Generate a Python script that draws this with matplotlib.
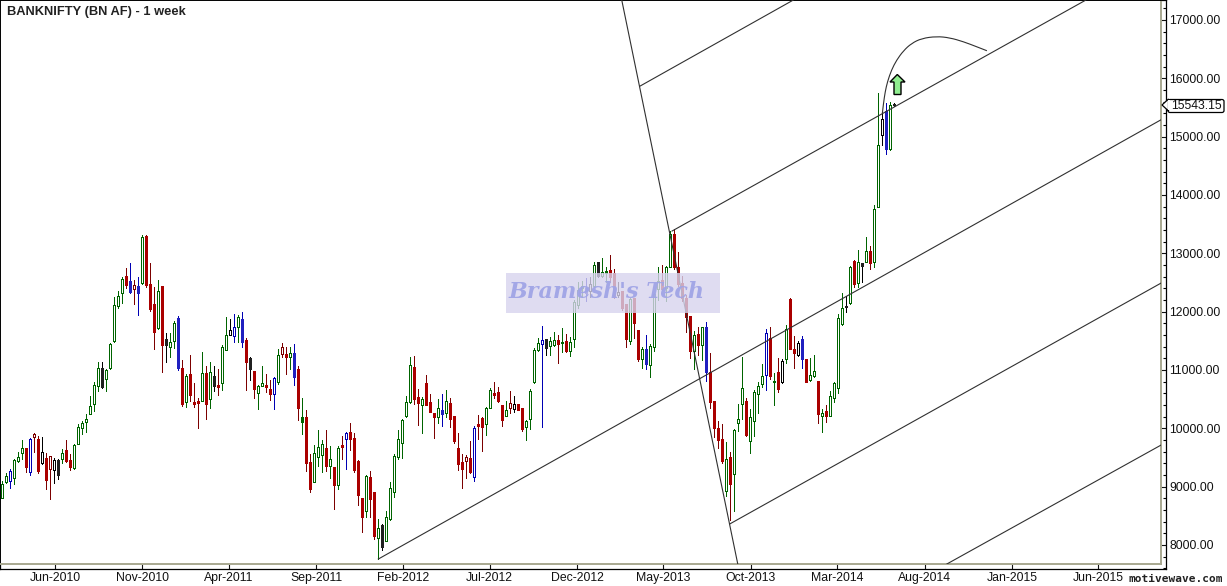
import matplotlib
matplotlib.use("Agg")
import matplotlib.pyplot as plt
import matplotlib.dates as mdates
import pandas as pd
from matplotlib.patches import Polygon, Rectangle, FancyBboxPatch, PathPatch
from matplotlib.path import Path
from matplotlib.ticker import FixedLocator, MultipleLocator, FuncFormatter
from matplotlib.transforms import Affine2D

W, H = 1227, 586

# weekly bars, prices
body_top = [
    9040, 9177, 9263, 9457, 9503, 9657, 9657, 9817, 9903, 9811, 9588, 9491, 9520, 9457, 9451,
    9571, 9628, 9457, 9714, 10017, 10085, 10154, 10377, 10737, 11028, 11028, 11000, 11445, 12108, 12262,
    12554, 12611, 12520, 12457, 12440, 13274, 13297, 12468, 12125, 12348, 12434, 11525, 11474, 11800, 11885,
    11028, 10891, 10925, 10451, 10463, 10943, 10943, 10960, 10891, 10737, 11388, 11594, 11680, 11731, 11908,
    11868, 11508, 11205, 10977, 10725, 10783, 10737, 10674, 10857, 11251, 11388, 11268, 11285, 11285, 11011,
    10188, 10188, 9416, 9571, 9673, 9725, 9656, 9468, 9331, 9656, 9708, 9913, 9931, 9828, 9433,
    8799, 9182, 9159, 8902, 8285, 8336, 8485, 8971, 9519, 9811, 10136, 10445, 11079, 11045, 10530,
    10496, 10770, 10445, 10256, 10342, 10308, 10462, 10428, 10205, 9656, 9416, 9502, 9485, 10000, 10068,
    10176, 10342, 10650, 10599, 10616, 10393, 10308, 10428, 10411, 10411, 10342, 10119, 10633, 11348, 11456,
    11508, 11525, 11490, 11508, 11508, 11473, 11490, 11473, 12165, 12371, 12440, 12400, 12474, 12800, 12845,
    12685, 12691, 12714, 12657, 12331, 12354, 12137, 12211, 12234, 11680, 11354, 11354, 11411, 12303, 12525,
    12542, 12760, 13331, 13331, 12771, 12485, 12228, 11920, 11605, 11611, 11731, 11731, 10971, 10462, 9999,
    9811, 9468, 9514, 9965, 10165, 10685, 10462, 10188, 10616, 10731, 10891, 11628, 11542, 10805, 10959,
    11148, 11708, 12211, 11354, 11456, 11525, 11182, 10908, 10976, 10805, 10256, 10291, 10548, 10771, 11885,
    12056, 12091, 12759, 12873, 12851, 12828, 13033, 13039, 13753, 14851, 15296, 15445, 15548, 15565,
]
body_bot = [
    8811, 9085, 9103, 9154, 9440, 9583, 9343, 9257, 9857, 9274, 9411, 9114, 9308, 9291, 9205,
    9480, 9445, 9343, 9320, 9737, 10000, 10103, 10251, 10411, 10731, 10714, 10840, 11028, 11491, 12102,
    12325, 12462, 12342, 12382, 12325, 12485, 12462, 12051, 11657, 11725, 11434, 11422, 11400, 11491, 11040,
    10423, 10457, 10577, 10423, 10440, 10474, 10423, 10508, 10731, 10714, 10783, 11348, 11605, 11588, 11743,
    11485, 11143, 11022, 10668, 10611, 10731, 10714, 10594, 10594, 10794, 11280, 11228, 11228, 10885, 10354,
    10113, 9399, 8965, 9085, 9502, 9548, 9359, 9359, 9033, 9033, 9685, 9811, 9822, 9285, 8851,
    8485, 8588, 8793, 8159, 8113, 7959, 8062, 8439, 8902, 9502, 9742, 10216, 10445, 10508, 10428,
    10405, 10393, 10285, 10199, 10188, 10251, 10268, 10153, 9788, 9393, 9308, 9445, 9256, 9171, 10045,
    10028, 10068, 10353, 10571, 10468, 10136, 10216, 10353, 10336, 10308, 9982, 10028, 10153, 10788, 11348,
    11450, 11382, 11405, 11422, 11450, 11456, 11330, 11330, 11537, 12114, 12400, 12314, 12360, 12445, 12611,
    12617, 12668, 12600, 12257, 12291, 12068, 11537, 11503, 11811, 11194, 11194, 11097, 11091, 11400, 12382,
    12382, 12400, 12771, 12771, 12474, 12228, 11914, 11331, 11331, 11434, 11434, 10971, 10456, 9999, 9799,
    9434, 8931, 9039, 9211, 10085, 10411, 9885, 9776, 10119, 10582, 10754, 10919, 10902, 10788, 10679,
    10788, 11182, 11365, 11285, 11251, 11182, 10799, 10822, 10902, 10239, 10211, 10205, 10216, 10514, 10696,
    11782, 12073, 12142, 12480, 12490, 12782, 12845, 12839, 12845, 13799, 15033, 14788, 14788, 15543.15,
]
high = [
    9097, 9228, 9297, 9474, 9588, 9800, 9657, 9834, 9914, 9868, 9851, 9571, 9520, 9491, 9474,
    9645, 9800, 9560, 9725, 10068, 10125, 10240, 10548, 10788, 11137, 11137, 11017, 11468, 12245, 12354,
    12594, 12748, 12834, 12542, 12594, 13314, 13308, 12834, 12422, 12542, 12434, 11634, 11634, 11840, 11925,
    11171, 10925, 11257, 10777, 10520, 11308, 11068, 11137, 11068, 11017, 11423, 11908, 11874, 11960, 11943,
    11994, 11548, 11223, 10977, 10743, 11068, 10931, 10828, 10874, 11354, 11462, 11394, 11394, 11445, 11068,
    10519, 10308, 9559, 9708, 9965, 9799, 9965, 9696, 9331, 9696, 9868, 9931, 10085, 9913, 9456,
    8799, 9199, 9262, 8913, 8445, 8353, 8582, 9073, 9553, 9971, 10153, 10548, 11216, 11239, 10668,
    10530, 10908, 10588, 10256, 10496, 10588, 10650, 10513, 10205, 9913, 9553, 9536, 9782, 10033, 10222,
    10193, 10359, 10685, 10788, 10702, 10393, 10462, 10633, 10548, 10411, 10342, 10136, 10668, 11370, 11542,
    11748, 11525, 11559, 11656, 11599, 11713, 11610, 11570, 12200, 12514, 12531, 12571, 12588, 12845, 12845,
    12925, 12771, 12971, 12731, 12514, 12360, 12137, 12234, 12234, 11680, 11400, 11594, 11440, 12314, 12771,
    12800, 12788, 13383, 13411, 13017, 12617, 12285, 11920, 11668, 11743, 11743, 11816, 11285, 10462, 10119,
    10068, 9759, 9588, 9982, 10411, 11216, 10514, 10325, 10651, 10788, 11096, 11696, 11731, 10942, 11199,
    11182, 11765, 12228, 11582, 11502, 11576, 11182, 11199, 11251, 10805, 10325, 10394, 10634, 10788, 11953,
    12313, 12273, 12790, 12885, 13056, 12828, 13273, 13125, 13822, 15742, 15428, 15576, 15588, 15570,
]
low = [
    8811, 9068, 8983, 9045, 9428, 9480, 9251, 9200, 9600, 9240, 9394, 8965, 8794, 9068, 9137,
    9411, 9428, 9291, 9308, 9737, 9908, 9937, 10251, 10303, 10645, 10685, 10645, 11022, 11485, 12068,
    12154, 12411, 12325, 12131, 11943, 12480, 12428, 12017, 11360, 11708, 10965, 11137, 11223, 11377, 11000,
    10388, 10371, 10468, 10365, 10005, 10474, 10160, 10348, 10645, 10577, 10663, 11348, 11600, 11480, 11485,
    11400, 10657, 10828, 10525, 10337, 10720, 10623, 10485, 10337, 10765, 11223, 10931, 11017, 10748, 10143,
    9902, 9273, 8908, 9085, 9348, 9251, 9268, 9153, 8616, 8965, 9473, 9302, 9628, 9251, 8691,
    8222, 8485, 8485, 8102, 7759, 7919, 8062, 8428, 8816, 9479, 9496, 10188, 10428, 10416, 10056,
    9925, 10393, 10279, 9839, 10085, 10039, 10188, 10028, 9753, 9285, 8982, 9153, 9233, 9102, 9811,
    9616, 9891, 10342, 10513, 10456, 10039, 10205, 10256, 10285, 10308, 9948, 9805, 9982, 10782, 11330,
    10028, 11250, 11250, 11416, 11119, 11302, 11313, 11245, 11400, 12057, 12245, 12188, 12245, 12428, 12600,
    12600, 12514, 12514, 12228, 12257, 12028, 11400, 11445, 11554, 11154, 11034, 11022, 10885, 11331, 12200,
    12371, 12182, 12760, 12731, 12445, 12188, 11657, 11211, 11017, 11257, 11171, 10816, 10353, 9856, 9656,
    9411, 8845, 8428, 8588, 9959, 10165, 9868, 9582, 9874, 10268, 10702, 10662, 10839, 10405, 10628,
    10782, 11113, 11354, 11039, 11239, 11039, 10788, 10816, 10885, 10096, 9942, 10114, 10211, 10456, 10611,
    11771, 11988, 12131, 12430, 12430, 12510, 12845, 12736, 12771, 13799, 14856, 14708, 14776, 15530,
]
# g/r/b/k colour, upper case = filled (down) body
candle_style = (
    "ggbgggRbrRkRrkKgRRggggggg"
    "KgggggRBrBgRRRgRKggBRgRRR"
    "gRgKRggkbgBRKRggRRbgrRgBR"
    "GRRgggRgRgRbRRRRgRRgKgggg"
    "gggRRgRRRgBgRRRRrRbRRggRR"
    "RgrkRRggggbKggRGRggggBkgK"
    "gGRRkRRgRRgBgggRggRRRRRgR"
    "gBRRRRgRgggRggggbRGRkgRRk"
    "BRggRgRgggg"
    "KgRgKgRggkBgK"
)
last_price = 15543.15

date_ticks = ["2010-06-01", "2010-11-01", "2011-04-01", "2011-09-01", "2012-02-01", "2012-07-01", "2012-12-01",
              "2013-05-01", "2013-10-01", "2014-03-01", "2014-08-01", "2015-01-01", "2015-06-01"]

# drawn channel lines: (start date, start price, end date, end price)
channel_lines = [
    ("2011-12-19", 7759, "2015-09-19", 15291),
    ("2013-05-16", 13382, "2015-05-10", 17341),
    ("2013-03-21", 15867, "2013-12-14", 17341),
    ("2013-08-25", 8360, "2015-09-19", 12491),
    ("2014-09-09", 7674, "2015-09-19", 9714),
    ("2013-02-17", 17341, "2013-09-08", 7674),
]
curve_dates = ["2014-05-19", "2014-05-21", "2014-05-24", "2014-05-28", "2014-06-04", "2014-06-13", "2014-06-25",
               "2014-07-09", "2014-07-27", "2014-08-22", "2014-09-14", "2014-10-08", "2014-10-31", "2014-11-18"]
curve_prices = [15399, 15570, 15770, 15942, 16142, 16313, 16473, 16599, 16685, 16719, 16696, 16628, 16542, 16473]

COLORS = {"g": "#006400", "r": "#7c0000", "b": "#0000b4", "k": "#000000"}
FILLS = {"g": "#006400", "r": "#aa0000", "b": "#2020c0", "k": "#202020"}

dates = pd.date_range("2010-03-01", periods=len(high), freq="7D")
x = mdates.date2num(dates)
day_px = 4 / 7.0  # one week bar is 4 px wide

plt.rcParams["font.family"] = ["Liberation Sans", "DejaVu Sans"]
fig = plt.figure(figsize=(W / 100, H / 100), dpi=100, facecolor="white")
px = Affine2D().scale(1.0 / W, -1.0 / H).translate(0, 1) + fig.transFigure

x_left = x[0] - 2.33 / day_px
price_per_px = 1000 / 58.33
y_top = 17000 + 20 * price_per_px


def x_at(p):
    return x_left + p / day_px


def y_at(p):
    return y_top - p * price_per_px


# outer frame holds the scales, inner one the chart
frame = fig.add_axes([0, 1 - 569 / H, 1166 / W, 569 / H], facecolor="white")
frame.set_xlim(x_left, x_at(1166))
frame.set_ylim(y_at(569), y_top)
for s in frame.spines.values():
    s.set_color("black")
    s.set_linewidth(0.9)
frame.xaxis.set_major_locator(FixedLocator(mdates.date2num(pd.to_datetime(date_ticks))))
frame.xaxis.set_major_formatter(mdates.DateFormatter("%b-%Y"))
frame.yaxis.tick_right()
frame.yaxis.set_major_locator(MultipleLocator(1000))
frame.yaxis.set_minor_locator(MultipleLocator(200))
frame.yaxis.set_major_formatter(FuncFormatter(lambda v, _: f"{v:.2f}"))
frame.tick_params(axis="x", direction="in", length=3.6, width=0.8, pad=2.5, labelsize=8.8, colors="#111111")
frame.tick_params(axis="y", which="major", direction="in", length=3.6, width=0.8, pad=2.5, labelsize=8.8,
                  colors="#111111")
frame.tick_params(axis="y", which="minor", direction="in", length=2.2, width=0.8)

ax = fig.add_axes([0, 1 - 564 / H, 1161 / W, 564 / H], facecolor="white")
ax.set_xlim(x_left, x_at(1161))
ax.set_ylim(y_at(564), y_top)
ax.set_xticks([])
ax.set_yticks([])
for side in ("right", "bottom"):
    ax.spines[side].set_color("#a8a890")
    ax.spines[side].set_linewidth(1.4)
for side in ("left", "top"):
    ax.spines[side].set_color("black")
    ax.spines[side].set_linewidth(1.4)

# candles
wick_colors = [COLORS[c.lower()] for c in candle_style]
ax.vlines(x, low, high, colors=wick_colors, linewidth=0.72, zorder=2, antialiased=False)
face = [FILLS[c.lower()] if c.isupper() else "white" for c in candle_style]
edge = [FILLS[c.lower()] if c.isupper() else COLORS[c.lower()] for c in candle_style]
heights = [t - b for t, b in zip(body_top, body_bot)]
ax.bar(x, heights, bottom=body_bot, width=3.6, color=face, edgecolor=edge, linewidth=0.7, zorder=2.5,
       antialiased=False)

# channel
for d0, p0, d1, p1 in channel_lines:
    ax.plot(pd.to_datetime([d0, d1]), [p0, p1], color="#303030", linewidth=0.8, zorder=3)

# arc, smoothed as a quadratic spline through the read points
cx = mdates.date2num(pd.to_datetime(curve_dates))
verts = [(cx[0], curve_prices[0])]
codes = [Path.MOVETO]
for i in range(1, len(cx) - 1):
    verts.append((cx[i], curve_prices[i]))
    codes.append(Path.CURVE3)
    end_x = cx[i + 1] if i == len(cx) - 2 else (cx[i] + cx[i + 1]) / 2
    end_y = curve_prices[i + 1] if i == len(cx) - 2 else (curve_prices[i] + curve_prices[i + 1]) / 2
    verts.append((end_x, end_y))
    codes.append(Path.CURVE3)
ax.add_patch(PathPatch(Path(verts, codes), facecolor="none", edgecolor="#303030", linewidth=0.8, zorder=3))
ax.set_xlim(x_left, x_at(1161))

# up arrow
arrow = [(897.3, 74.5), (905, 82), (901, 82), (901, 94.5), (894, 94.5), (894, 82), (890, 82)]
fig.add_artist(Polygon(arrow, closed=True, facecolor="#90ee90", edgecolor="black", linewidth=1.0, transform=px))

# watermark
fig.add_artist(Rectangle((506, 273), 214, 40, facecolor="#d8d4ee", edgecolor="none", alpha=0.8, transform=px))
fig.text(607 / W, 1 - 292 / H, "Bramesh's Tech", family="DejaVu Serif", style="italic", weight="bold",
         fontsize=16, color="#a0a4e6", ha="center", va="center", alpha=0.95)

# last price flag
flag = FancyBboxPatch((1168, 99.5), 56, 13, boxstyle="round,pad=0,rounding_size=2", facecolor="white",
                      edgecolor="black", linewidth=0.9, transform=px)
fig.add_artist(flag)
tip_y = (y_top - last_price) / price_per_px
fig.add_artist(Polygon([(1162, tip_y), (1168.5, tip_y - 6), (1168.5, tip_y + 6)], closed=True, facecolor="white",
                       edgecolor="black", linewidth=0.9, transform=px))
fig.add_artist(Rectangle((1167.5, tip_y - 5.3), 2, 10.6, facecolor="white", edgecolor="none", transform=px))
fig.text(1196 / W, 1 - 106 / H, f"{last_price:.2f}", fontsize=8.8, color="#111111", ha="center", va="center")

fig.text(7 / W, 1 - 12 / H, "BANKNIFTY (BN AF) - 1 week", fontsize=9.3, weight="bold", color="#222222",
         ha="left", va="center")
fig.text(1223 / W, 1 - 579 / H, "motivewave.com", family="DejaVu Sans Mono", weight="bold", fontsize=8,
         color="#222222", ha="right", va="center")

fig.savefig("out.png", dpi=100)
